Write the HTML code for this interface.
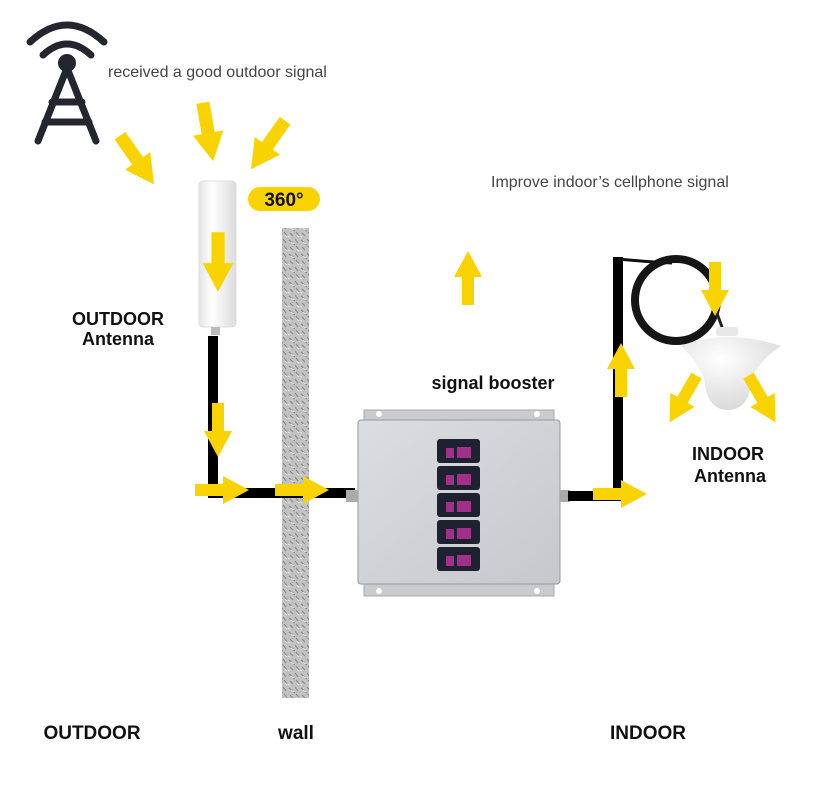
<!DOCTYPE html>
<html><head><meta charset="utf-8"><style>
html,body{margin:0;padding:0;background:#fff;}
svg{display:block;}
text{font-family:"Liberation Sans",sans-serif;}
</style></head><body>
<svg width="817" height="802" viewBox="0 0 817 802" xmlns="http://www.w3.org/2000/svg">
<defs>
<path id="ar" d="M-27,-6 L1,-6 L1,-14 L27,0 L1,14 L1,6 L-27,6 Z" fill="#f9d300"/>
<pattern id="wt" width="12" height="14" patternUnits="userSpaceOnUse">
<rect width="12" height="14" fill="#c2c2c2"/>
<path d="M1,2 l4,3 M7,1 l3,4 M2,9 l3,3 M8,8 l3,4 M5,6 l2,1" stroke="#8a8a8a" stroke-width="1.1"/>
<path d="M3,4 l3,2 M9,11 l2,2 M0,12 l2,1" stroke="#e6e6e6" stroke-width="1"/>
</pattern>
<linearGradient id="cyl" x1="0" x2="1">
<stop offset="0" stop-color="#e4e4e4"/><stop offset="0.35" stop-color="#ffffff"/><stop offset="1" stop-color="#dcdcdc"/>
</linearGradient>
<linearGradient id="box" x1="0" x2="1" y1="0" y2="1">
<stop offset="0" stop-color="#dcdde0"/><stop offset="1" stop-color="#c6c8cc"/>
</linearGradient>
<radialGradient id="dome" cx="0.4" cy="0.3" r="0.8">
<stop offset="0" stop-color="#ffffff"/><stop offset="1" stop-color="#d4d4d4"/>
</radialGradient>
</defs>

<!-- tower -->
<g stroke="#252530" fill="none" stroke-linecap="round" stroke-width="7">
<path d="M30,42 Q67,8 104,42"/>
<path d="M43,55 Q67,33 91,55"/>
<path d="M67,68 L38,141 M67,68 L96,141 M52,102 L82,102 M45,122 L89,122"/>
</g>
<circle cx="67" cy="63" r="9" fill="#252530"/>

<text x="108" y="77" font-size="16" fill="#444">received a good outdoor signal</text>
<text x="491" y="187" font-size="16" fill="#444">Improve indoor’s cellphone signal</text>

<!-- wall -->
<rect x="282" y="228" width="27" height="470" fill="url(#wt)"/>

<!-- outdoor antenna -->
<rect x="199" y="181" width="37" height="146" rx="4" fill="url(#cyl)" stroke="#ddd" stroke-width="1"/>
<rect x="211" y="327" width="9" height="8" fill="#bbb"/>
<rect x="248" y="187" width="72" height="24" rx="12" fill="#f9d300"/>
<text x="284" y="206" font-size="19" font-weight="bold" text-anchor="middle" fill="#111">360°</text>

<!-- cables left -->
<path d="M213,336 L213,493 L355,493" stroke="#000" stroke-width="10" fill="none"/>

<!-- booster -->
<rect x="364" y="410" width="190" height="186" fill="#c9cbcf" stroke="#aaa"/>
<rect x="358" y="420" width="202" height="164" rx="3" fill="url(#box)" stroke="#999"/>
<circle cx="379" cy="414" r="3" fill="#fff"/><circle cx="537" cy="414" r="3" fill="#fff"/>
<circle cx="379" cy="591" r="3" fill="#fff"/><circle cx="537" cy="591" r="3" fill="#fff"/>
<rect x="346" y="490" width="12" height="12" fill="#aaa"/>
<rect x="560" y="490" width="10" height="12" fill="#aaa"/>
<g>
<rect x="437" y="439" width="43" height="24" rx="3" fill="#1e2230"/>
<rect x="437" y="466" width="43" height="24" rx="3" fill="#1e2230"/>
<rect x="437" y="493" width="43" height="24" rx="3" fill="#1e2230"/>
<rect x="437" y="520" width="43" height="24" rx="3" fill="#1e2230"/>
<rect x="437" y="547" width="43" height="24" rx="3" fill="#1e2230"/>
<g fill="#a0308a">
<rect x="446" y="448" width="8" height="10"/><rect x="457" y="447" width="14" height="11"/>
<rect x="446" y="475" width="8" height="10"/><rect x="457" y="474" width="14" height="11"/>
<rect x="446" y="502" width="8" height="10"/><rect x="457" y="501" width="14" height="11"/>
<rect x="446" y="529" width="8" height="10"/><rect x="457" y="528" width="14" height="11"/>
<rect x="446" y="556" width="8" height="10"/><rect x="457" y="555" width="14" height="11"/>
</g>
</g>

<!-- cables right -->
<path d="M568,496 L618,496 L618,257" stroke="#000" stroke-width="10" fill="none"/>
<path d="M618,259 Q650,262 672,263" stroke="#111" stroke-width="3" fill="none"/>
<circle cx="676" cy="300" r="41" stroke="#151515" stroke-width="8" fill="none"/>
<path d="M715,308 L725,335" stroke="#222" stroke-width="3"/>
<!-- dome -->
<rect x="716" y="327" width="22" height="9" rx="3" fill="#e8e8e8"/>
<path d="M681,346 Q727,328 781,346 Q762,358 752,377 Q750,410 728,410 Q706,410 704,377 Q694,358 681,346 Z" fill="url(#dome)"/>

<!-- arrows -->
<use href="#ar" transform="translate(137,160) rotate(55) scale(1.1)"/>
<use href="#ar" transform="translate(208,132) rotate(80) scale(1.1)"/>
<use href="#ar" transform="translate(268,145) rotate(125) scale(1.1)"/>
<use href="#ar" transform="translate(218,262) rotate(90) scale(1.1)"/>
<use href="#ar" transform="translate(218,430) rotate(90)"/>
<use href="#ar" transform="translate(222,490)"/>
<use href="#ar" transform="translate(302,490)"/>
<use href="#ar" transform="translate(468,278) rotate(-90)"/>
<use href="#ar" transform="translate(621,370) rotate(-90)"/>
<use href="#ar" transform="translate(620,494)"/>
<use href="#ar" transform="translate(715,289) rotate(90)"/>
<use href="#ar" transform="translate(683,399) rotate(120)"/>
<use href="#ar" transform="translate(762,399) rotate(60)"/>

<!-- labels -->
<g font-weight="bold" fill="#111" text-anchor="middle">
<text x="118" y="325" font-size="18">OUTDOOR</text>
<text x="118" y="345" font-size="18">Antenna</text>
<text x="493" y="389" font-size="18">signal booster</text>
<text x="728" y="460" font-size="18">INDOOR</text>
<text x="730" y="482" font-size="18">Antenna</text>
<text x="92" y="739" font-size="19">OUTDOOR</text>
<text x="296" y="739" font-size="19">wall</text>
<text x="648" y="739" font-size="19">INDOOR</text>
</g>
</svg>
</body></html>
